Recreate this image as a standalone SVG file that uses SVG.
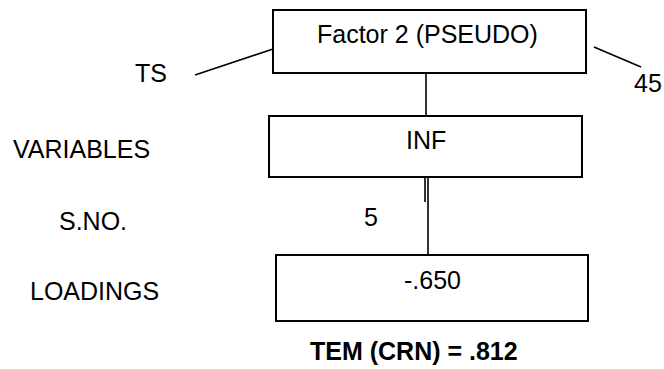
<svg xmlns="http://www.w3.org/2000/svg" width="664" height="369" viewBox="0 0 664 369">
<style>
.box{fill:#fff;stroke:#000;stroke-width:2}
.ln{stroke:#000;stroke-width:1.6;fill:none}
text{font-family:"Liberation Sans",Arial,sans-serif;font-size:25px;fill:#000}
.b{font-weight:bold}
</style>
<rect width="664" height="369" fill="#fff"/>
<g id="connectors">
<line class="ln" x1="195" y1="75" x2="276" y2="48"/>
<line class="ln" x1="594" y1="47" x2="641" y2="67"/>
<line class="ln" x1="426" y1="56" x2="426" y2="116"/>
<line class="ln" x1="425" y1="177" x2="425" y2="202"/>
<line class="ln" x1="428" y1="177" x2="428" y2="255"/>
</g>
<g id="factor">
<rect class="box" x="273" y="10" width="313" height="63"/>
<text x="317" y="43">Factor 2 (PSEUDO)</text>
</g>
<g id="inf">
<rect class="box" x="269" y="116" width="313" height="61"/>
<text x="406" y="149">INF</text>
</g>
<g id="loading">
<rect class="box" x="276" y="255" width="312" height="66"/>
<text x="404" y="289">-.650</text>
</g>
<g id="labels">
<text x="135" y="82">TS</text>
<text x="634" y="92">45</text>
<text x="13" y="158">VARIABLES</text>
<text x="59" y="230">S.NO.</text>
<text x="364" y="226">5</text>
<text x="30" y="300">LOADINGS</text>
<text class="b" x="310" y="360">TEM (CRN) = .812</text>
</g>
</svg>
